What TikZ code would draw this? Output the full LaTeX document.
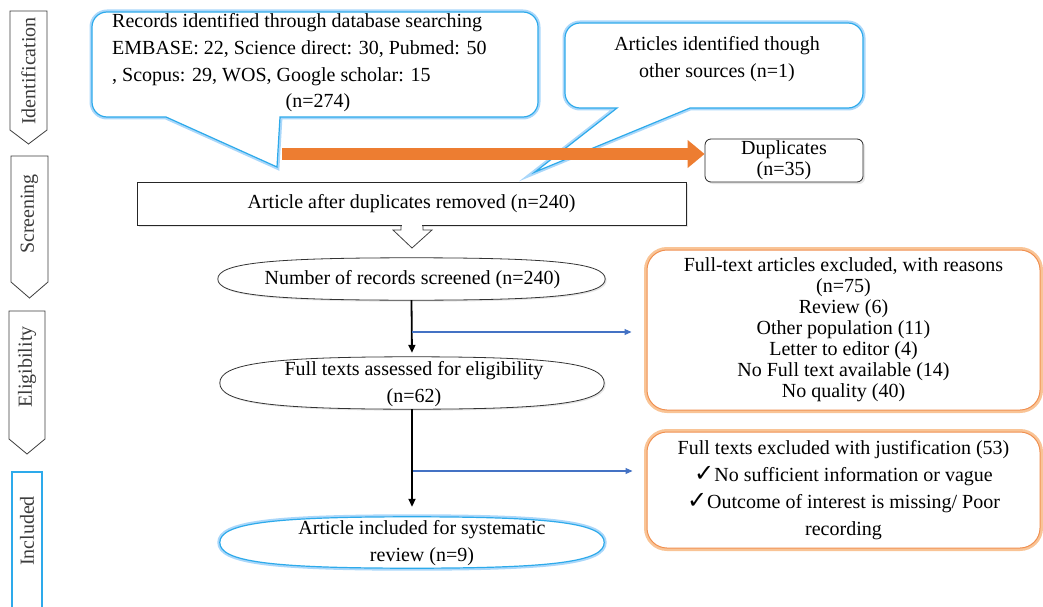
\documentclass[tikz,border=0pt]{standalone}
\usepackage{fontspec}
\setmainfont{Liberation Serif}
\newfontfamily\checkfont{DejaVu Sans}
\usetikzlibrary{arrows.meta, shapes.geometric, shadows, math, calc}
\definecolor{cblue}{RGB}{45,170,235}
\definecolor{cglow}{RGB}{170,215,250}
\definecolor{qorange}{RGB}{237,125,49}
\definecolor{oglow}{RGB}{249,196,150}
\definecolor{lblue}{RGB}{68,114,196}
\definecolor{stagegray}{RGB}{60,60,60}
\newcommand{\kk}{0.74}
\newcommand{\ovalframe}[2]{% style, node
  \draw[#1] (#2.west) .. controls ($(#2.west)!\kk!(#2.north west)$) and ($(#2.north)!\kk!(#2.north west)$) .. (#2.north)
    .. controls ($(#2.north)!\kk!(#2.north east)$) and ($(#2.east)!\kk!(#2.north east)$) .. (#2.east)
    .. controls ($(#2.east)!\kk!(#2.south east)$) and ($(#2.south)!\kk!(#2.south east)$) .. (#2.south)
    .. controls ($(#2.south)!\kk!(#2.south west)$) and ($(#2.west)!\kk!(#2.south west)$) .. (#2.west) -- cycle;}
\newcommand{\tick}{{\checkfont\fontsize{24}{27}\selectfont ✓}}

\begin{document}
\begin{tikzpicture}[x=1pt, y=-1pt,
  every node/.style={inner sep=0pt, text=black},
  tight/.style={font=\fontsize{20}{21}\selectfont},
  loose/.style={font=\fontsize{20}{27}\selectfont},
  blueglow/.style={draw=cblue, line width=1.2pt, fill=white, preaction={draw=cglow, line width=5pt}},
  orangebox/.style={rectangle, rounded corners=20pt, draw=qorange!85, line width=1pt, fill=white, preaction={draw=oglow, line width=6pt}},
  rectbox/.style={rectangle, draw=black!85, line width=0.8pt, fill=white, drop shadow={opacity=0.2, shadow xshift=2pt, shadow yshift=-2pt}},
  ovalline/.style={draw=black!80, line width=0.8pt, fill=white, drop shadow={opacity=0.2, shadow xshift=1.5pt, shadow yshift=-1.5pt}},
  frame/.style={rectangle, minimum height=#1},
  stagebox/.style={draw=stagegray, line width=0.8pt, fill=white},
  stagetext/.style={tight, rotate=90, text=stagegray},
  mainarrow/.style={black, line width=1.8pt, -{Triangle[length=8pt,width=7pt]}},
  sidearrow/.style={draw=lblue, line width=1.1pt, -{Triangle[length=7pt,width=6pt]}},
  duparrow/.style={draw=qorange, line width=12pt, -{Triangle[length=17pt,width=27pt]}}
]
\tikzmath{
\ew=384;
}
\useasboundingbox (0,0) rectangle (1043,607);

%sources (callouts):
 \draw[blueglow] (166,117) -- (107,117) arc[start angle=270, end angle=180, radius=15pt] -- (92,27)
   arc[start angle=180, end angle=90, radius=15pt] -- (523,12) arc[start angle=90, end angle=0, radius=15pt]
   -- (538,102) arc[start angle=0, end angle=-90, radius=15pt] -- (280,117) -- (277,167) -- cycle;
 \node[loose, anchor=west, align=left] (src1) at (112,50) {Records identified through database searching\\EMBASE: 22, Science direct: 30, Pubmed: 50\\, Scopus: 29, WOS, Google scholar: 15};
 \node[tight] (src1n) at (318,103) {(n=274)};
 \draw[blueglow] (617,108) -- (580,108) arc[start angle=270, end angle=180, radius=15pt] -- (565,38)
   arc[start angle=180, end angle=90, radius=15pt] -- (848,23) arc[start angle=90, end angle=0, radius=15pt]
   -- (863,93) arc[start angle=0, end angle=-90, radius=15pt] -- (690,108) -- (535,172) -- cycle;
 \node[loose, align=center] (src2) at (717,59) {Articles identified though\\other sources (n=1)};

%duplicates
 \node[rectbox, rounded corners=6pt, minimum width=158pt, minimum height=43pt, tight, align=center] (dup) at (784,160.5) {Duplicates\\(n=35)};
 \coordinate (dupstart) at (282,154);
 \draw[duparrow] (dupstart) -- (dupstart -| dup.west);

 \node[rectbox, minimum width=549pt, minimum height=43pt, tight] (after) at (411.5,203.5) {Article after duplicates removed (n=240)};
%hollow block arrow
 \fill[white] (402,223) rectangle (422,227);
 \draw[black!75, line width=0.8pt] (401,225) -- (401,230) -- (393,230) -- (412,248) -- (432,230) -- (423,230) -- (423,225);

%screening and eligibility
 \node[frame=42pt, minimum width=387pt] (scr) at (411.5,279) {};
 \ovalframe{ovalline}{scr}
 \node[tight] (scrtext) at (412.5,279.5) {Number of records screened (n=240)};
 \node[frame=52pt, minimum width=\ew pt] (full) at (412,383) {};
 \ovalframe{ovalline}{full}
 \node[loose, align=center] (fulltext) at (414,384) {Full texts assessed for eligibility\\(n=62)};
 \node[frame=51pt, minimum width=\ew pt] (incl) at (412,542.5) {};
 \ovalframe{blueglow}{incl}
 \node[loose, align=center] (incltext) at (422,543) {Article included for systematic\\review (n=9)};

 \draw[mainarrow, shorten >=4pt] (scr.south) -- (full.north);
 \draw[mainarrow, shorten >=10pt] (full.south) -- (incl.north);

%exclusions
 \node[orangebox, tight, minimum width=393pt, minimum height=160pt, align=center] (excl1) at (843.5,330) {Full-text articles excluded, with reasons\\(n=75)\\Review (6)\\Other population (11)\\Letter to editor (4)\\No Full text available (14)\\No quality (40)};
 \node[orangebox, loose, minimum width=393pt, minimum height=116pt, align=center] (excl2) at (843.5,490) {Full texts excluded with justification (53)\\\tick No sufficient information or vague\\\tick Outcome of interest is missing/ Poor\\recording};
 \coordinate (br1) at (412,332);
 \coordinate (br2) at (413,471);
 \draw[sidearrow, shorten >=15pt] (br1) -- (br1 -| excl1.west);
 \draw[sidearrow, shorten >=14pt] (br2) -- (br2 -| excl2.west);

%stages
 \foreach \xa/\ya/\xb/\yb/\yt/\ym/\nm/\txt in {10/11/47/130/144/71/ident/Identification, 11/156/48/282/298/214/screening/Screening, 9/311/45/439/454/367/elig/Eligibility}{
  \draw[stagebox] (\xa,\ya) -- (\xb,\ya) -- (\xb,\yb) -- ({(\xa+\xb)/2},\yt) -- (\xa,\yb) -- cycle;
  \node[stagetext] (\nm) at ({(\xa+\xb)/2},\ym) {\txt};
 }
 \draw[draw=cblue, line width=1.2pt] (12,608) -- (12,472) -- (42,472) -- (42,608);
 \node[stagetext] (included) at (27,531) {Included};
\end{tikzpicture}
\end{document}
